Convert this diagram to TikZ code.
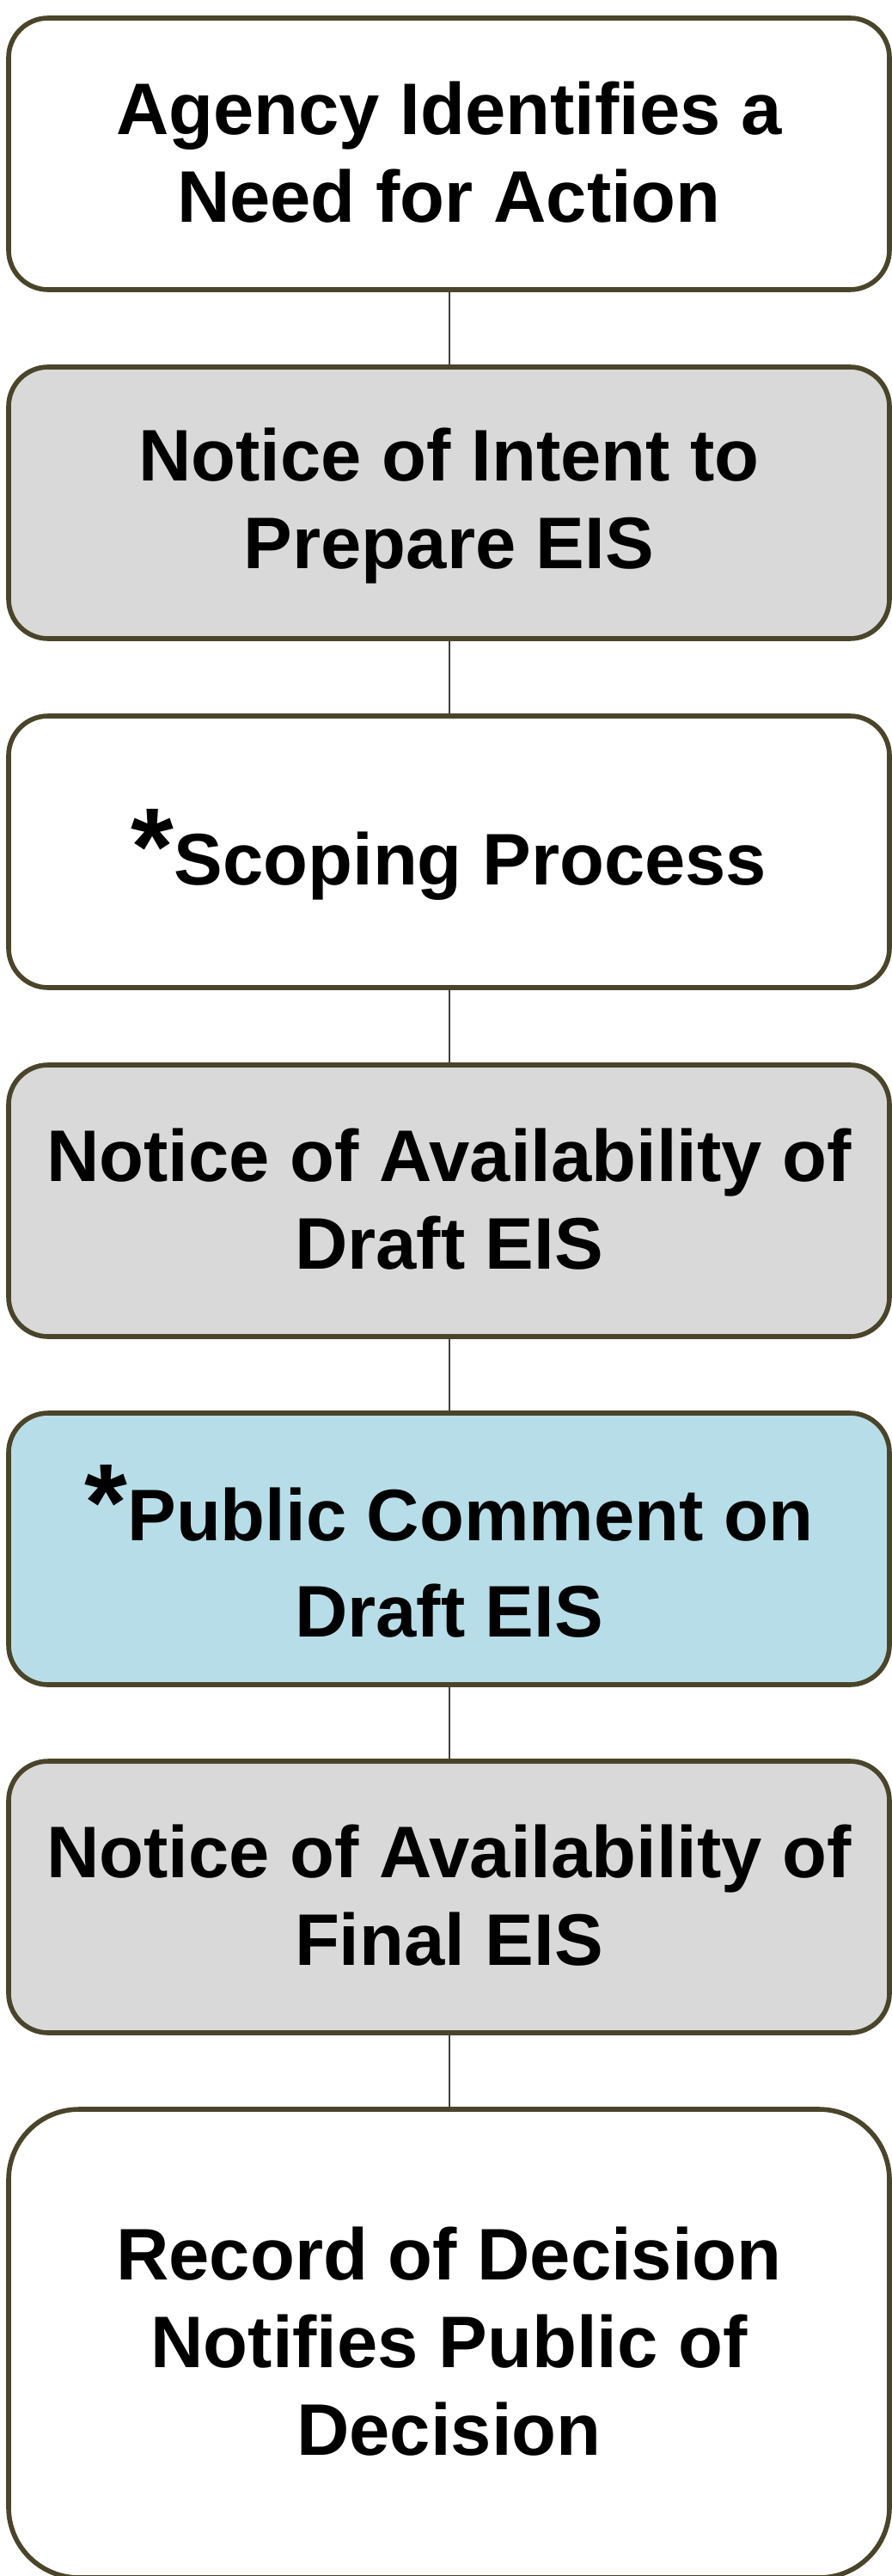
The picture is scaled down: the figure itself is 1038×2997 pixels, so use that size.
\documentclass[tikz,border=0pt]{standalone}
\usepackage{fontspec}
\setmainfont{Liberation Sans}
\definecolor{edge}{HTML}{4A452A}
\definecolor{greyfill}{HTML}{D9D9D9}
\definecolor{bluefill}{HTML}{B7DEE8}
\definecolor{linkc}{HTML}{404040}
\newcommand{\topstrut}{\rule[-6pt]{0pt}{40pt}}
\newcommand{\bigstar}[1]{{\fontsize{64}{51}\selectfont *}}
\begin{document}
\begin{tikzpicture}[x=0.5pt,y=-0.5pt,
  stepbox/.style={draw=edge, line width=2.8pt, rounded corners=23pt,
    minimum width=512.5pt, minimum height=158pt, inner sep=0pt,
    align=center, font=\bfseries\fontsize{42.5}{51}\selectfont},
  whitebox/.style={stepbox, fill=white},
  greybox/.style={stepbox, fill=greyfill},
  bluebox/.style={stepbox, fill=bluefill},
  link/.style={draw=linkc, line width=1pt}]
\useasboundingbox (0,0) rectangle (1038,2997);
\node[whitebox] (b1) at (522.5,179) {\topstrut Agency Identifies a\\Need for Action\topstrut};
\node[greybox] (b2) at (522.5,585) {\topstrut Notice of Intent to\\Prepare EIS\topstrut};
\node[whitebox] (b3) at (522.5,991) {\rule[-6pt]{0pt}{53pt}\bigstar{}Scoping Process};
\node[greybox] (b4) at (522.5,1397) {\topstrut Notice of Availability of\\Draft EIS\topstrut};
\node[bluebox] (b5) at (522.5,1802) {\rule[-6pt]{0pt}{58pt}\bigstar{}Public Comment on\\[5pt]Draft EIS\topstrut};
\node[greybox] (b6) at (522.5,2207) {\topstrut Notice of Availability of\\Final EIS\topstrut};
\node[whitebox, minimum height=272.5pt, rounded corners=41pt] (b7) at (522.5,2726.5) {\topstrut Record of Decision\\Notifies Public of\\Decision\topstrut};
\draw[link] (b1.south) -- (b2.north);
\draw[link] (b2.south) -- (b3.north);
\draw[link] (b3.south) -- (b4.north);
\draw[link] (b4.south) -- (b5.north);
\draw[link] (b5.south) -- (b6.north);
\draw[link] (b6.south) -- (b7.north);
\end{tikzpicture}
\end{document}
